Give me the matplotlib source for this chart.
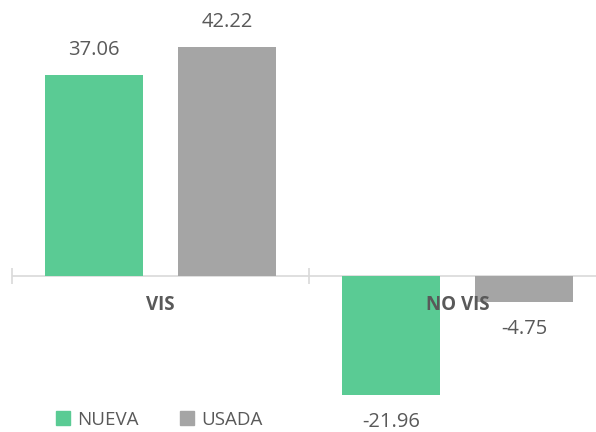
import numpy as np
import matplotlib.pyplot as plt
from matplotlib.patches import Patch

categories = ['VIS', 'NO VIS']
nueva = [37.06, -21.96]
usada = [42.22, -4.75]
series_names = ['NUEVA', 'USADA']

green = '#5ACB94'
grey = '#A5A5A5'
txt = '#595959'

plt.rcParams['font.family'] = ['Open Sans', 'DejaVu Sans']

fig = plt.figure(figsize=(5.96, 4.32), dpi=100)
ax = fig.add_axes([12 / 596, 0, 594 / 596, 1])

x = np.arange(len(categories))
w = 0.333
off = 0.224
b1 = ax.bar(x - off, nueva, w, color=green)
b2 = ax.bar(x + off, usada, w, color=grey)

ax.set_xlim(-0.5, 1.5)
ax.set_ylim(-28.7, 50.8)

for bars in (b1, b2):
    for bar in bars:
        v = bar.get_height()
        xc = bar.get_x() + bar.get_width() / 2
        if v >= 0:
            ax.annotate(f'{v:.2f}', (xc, v), xytext=(0, 18), textcoords='offset points',
                        ha='center', va='center', fontsize=14.5, color=txt)
        else:
            ax.annotate(f'{v:.2f}', (xc, v), xytext=(0, -19.5), textcoords='offset points',
                        ha='center', va='center', fontsize=14.5, color=txt)

ax.axhline(0, color='#D9D9D9', lw=1.2, zorder=0)
for s in ax.spines.values():
    s.set_visible(False)
ax.set_yticks([])
ax.set_xticks([-0.5, 0.5, 1.5])
ax.set_xticklabels([])
ax.tick_params(axis='x', direction='inout', length=11, width=1.2, color='#D9D9D9')
ax.xaxis.set_ticks_position('bottom')
ax.spines['bottom'].set_position(('data', 0))

for xi, c in zip(x, categories):
    ax.annotate(c, (xi, 0), xytext=(0, -21), textcoords='offset points',
                ha='center', va='center', fontsize=13.5, fontweight='bold', color=txt)

handles = [Patch(color=green), Patch(color=grey)]
fig.legend(handles, series_names, loc='center left', bbox_to_anchor=(0.065, 0.028),
           ncol=2, frameon=False, fontsize=13.5, labelcolor=txt,
           handlelength=0.75, handleheight=0.75, handletextpad=0.4, columnspacing=2.2)

fig.savefig('out.png', dpi=100)
